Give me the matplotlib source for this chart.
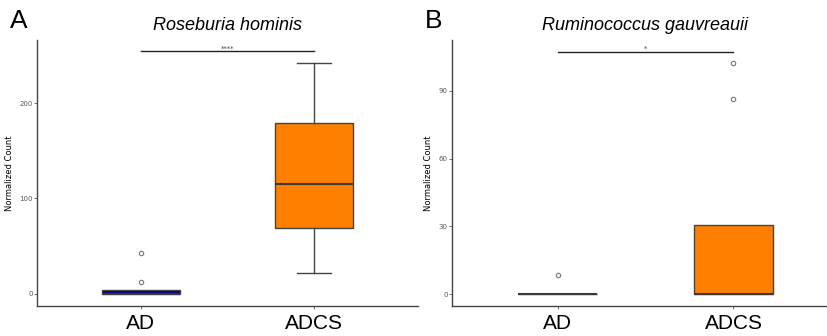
import numpy as np
import matplotlib.pyplot as plt

# groups and colours
groups = ["AD", "ADCS"]
box_colors = ["#000080", "#FF8000"]

# Roseburia hominis (panel A), five-number summaries
a_whislo = [0, 22]
a_q1 = [0, 69]
a_med = [0, 115.5]
a_q3 = [4, 179]
a_whishi = [4, 242]
a_fliers = [[12.5, 42.5], []]

# Ruminococcus gauvreauii (panel B)
b_whislo = [0, 0]
b_q1 = [0, 0]
b_med = [0, 0]
b_q3 = [0, 30.6]
b_whishi = [0, 30.6]
b_fliers = [[8.3], [86.6, 102.4]]

W, H = 828, 336


def make_stats(whislo, q1, med, q3, whishi, fliers):
    stats = []
    for i in range(len(groups)):
        stats.append(dict(whislo=whislo[i], q1=q1[i], med=med[i], q3=q3[i],
                          whishi=whishi[i], fliers=fliers[i], label=groups[i]))
    return stats


def draw_panel(ax, stats, title, ylim, yticks, sig_y, stars, letter):
    bp = ax.bxp(stats, positions=range(len(groups)), widths=0.45,
                patch_artist=True, showcaps=True, capwidths=0.2,
                boxprops=dict(edgecolor="#444444", linewidth=1.0),
                medianprops=dict(color="#3a3a3a", linewidth=1.5),
                whiskerprops=dict(color="#444444", linewidth=1.0),
                capprops=dict(color="#444444", linewidth=1.0),
                flierprops=dict(marker="o", markersize=3.2, markerfacecolor="none",
                                markeredgecolor="#777777", markeredgewidth=0.8))
    for patch, c in zip(bp["boxes"], box_colors):
        patch.set_facecolor(c)
    # no caps on zero-length whiskers
    for i, st in enumerate(stats):
        if st["whislo"] == st["q1"]:
            bp["caps"][2 * i].set_visible(False)
        if st["whishi"] == st["q3"]:
            bp["caps"][2 * i + 1].set_visible(False)
    ax.set_xlim(-0.6, 1.6)
    ax.set_ylim(*ylim)
    ax.set_yticks(yticks)
    ax.set_xticks(range(len(groups)))
    ax.set_xticklabels(groups, fontsize=15, color="black", family="Liberation Sans")
    ax.tick_params(axis="y", labelsize=5, colors="#555555", length=2, width=0.6, pad=1)
    ax.tick_params(axis="x", colors="#555555", length=2, width=0.6, pad=4)
    for lab in ax.get_xticklabels():
        lab.set_color("black")
    for s in ["top", "right"]:
        ax.spines[s].set_visible(False)
    for s in ["left", "bottom"]:
        ax.spines[s].set_color("#444444")
        ax.spines[s].set_linewidth(1.0)
    ax.set_ylabel("Normalized Count", fontsize=6, labelpad=4)
    ax.set_title(title, fontsize=13, style="italic", family="Liberation Sans", pad=7)
    # significance bar
    ax.plot([0, 1], [sig_y, sig_y], color="#222222", linewidth=1.0, clip_on=False)
    ax.text(0.5, sig_y, stars, ha="center", va="bottom", fontsize=5, color="#444444")
    ax.text(-0.07, 1.07, letter, transform=ax.transAxes, fontsize=19,
            family="Liberation Sans", ha="left", va="center")


fig = plt.figure(figsize=(W / 100, H / 100), dpi=100)

ax1 = fig.add_axes([37 / W, 30 / H, 381 / W, 266 / H])
draw_panel(ax1, make_stats(a_whislo, a_q1, a_med, a_q3, a_whishi, a_fliers),
           "Roseburia hominis", (-12.6, 266), [0, 100, 200], 254, "****", "A")

ax2 = fig.add_axes([452 / W, 30 / H, 387 / W, 266 / H])
draw_panel(ax2, make_stats(b_whislo, b_q1, b_med, b_q3, b_whishi, b_fliers),
           "Ruminococcus gauvreauii", (-5.3, 112.6), [0, 30, 60, 90], 107.4, "*", "B")

fig.savefig("out.png", dpi=100)
